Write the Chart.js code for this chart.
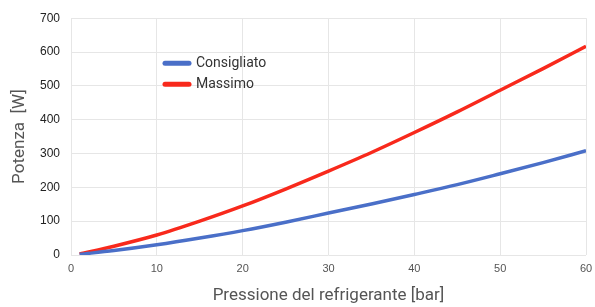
<!DOCTYPE html>
<html>
<head>
<meta charset="utf-8">
<script src="https://cdn.jsdelivr.net/npm/chart.js@4"></script>
<style>
  html, body { margin: 0; padding: 0; background: #fff; }
  #wrap { width: 595px; height: 307px; }
</style>
</head>
<body>
<div id="wrap"><canvas id="myChart"></canvas></div>
<script>
// data
const pressure    = [1, 5, 10, 15, 20, 25, 30, 35, 40, 45, 50, 55, 60];
const consigliato = [2, 13, 30, 50, 72, 97, 124, 151, 179, 208, 240, 273, 308];
const massimo     = [3, 26, 59, 100, 145, 195, 248, 303, 362, 423, 487, 551, 617];
const seriesNames = ['Consigliato', 'Massimo'];

const toPoints = (ys) => pressure.map((x, i) => ({ x: x, y: ys[i] }));

// legend drawn inside the plot, top-left-ish
const innerLegend = {
    id: 'innerLegend',
    afterDraw(chart) {
        const ctx = chart.ctx;
        const a = chart.chartArea;
        ctx.save();
        chart.data.datasets.forEach((ds, i) => {
            const y = a.top + 45 + i * 21;
            const x0 = a.left + 94;
            ctx.strokeStyle = ds.borderColor;
            ctx.lineWidth = 5;
            ctx.lineCap = 'round';
            ctx.beginPath();
            ctx.moveTo(x0, y);
            ctx.lineTo(x0 + 24, y);
            ctx.stroke();
            ctx.fillStyle = '#333';
            ctx.font = '14px Roboto';
            ctx.textBaseline = 'middle';
            ctx.fillText(ds.label, x0 + 31, y);
        });
        ctx.restore();
    }
};

var ctx = document.getElementById('myChart').getContext('2d');
var chart = new Chart(ctx, {
    type: 'line',
    data: {
        datasets: [{
            label: seriesNames[0],
            data: toPoints(consigliato),
            borderColor: '#4a6fc8',
            borderWidth: 3.5,
            pointRadius: 0,
            cubicInterpolationMode: 'monotone',
            fill: false
        }, {
            label: seriesNames[1],
            data: toPoints(massimo),
            borderColor: '#f8291c',
            borderWidth: 3.5,
            pointRadius: 0,
            cubicInterpolationMode: 'monotone',
            fill: false
        }]
    },
    options: {
        responsive: true,
        maintainAspectRatio: false,
        animation: false,
        layout: { padding: { top: 17, right: 9, left: 0, bottom: 0 } },
        plugins: {
            legend: { display: false },
            tooltip: { enabled: false }
        },
        scales: {
            x: {
                type: 'linear',
                min: 0,
                max: 60,
                ticks: { stepSize: 10, color: '#555', padding: 7, font: { size: 11, family: 'Liberation Sans' } },
                grid: { color: '#e6e6e6', drawTicks: false },
                border: { display: false },
                title: {
                    display: true,
                    text: 'Pressione del refrigerante [bar]',
                    color: '#555',
                    font: { size: 17, family: 'Roboto' },
                    padding: { top: 0, bottom: 1 }
                },
                afterFit: (scale) => {
                    scale.height = 52;
                    scale.paddingLeft = 0;
                    scale.paddingRight = 0;
                }
            },
            y: {
                min: 0,
                max: 700,
                ticks: { stepSize: 100, color: '#222', padding: 11, font: { size: 12, family: 'Liberation Sans' } },
                grid: { color: '#e6e6e6', drawTicks: false },
                border: { display: false },
                title: {
                    display: true,
                    text: 'Potenza  [W]',
                    color: '#555',
                    font: { size: 17, family: 'Roboto' },
                    padding: { top: 10, bottom: 0 }
                },
                afterFit: (scale) => { scale.width = 71; }
            }
        }
    },
    plugins: [innerLegend]
});
</script>
</body>
</html>
